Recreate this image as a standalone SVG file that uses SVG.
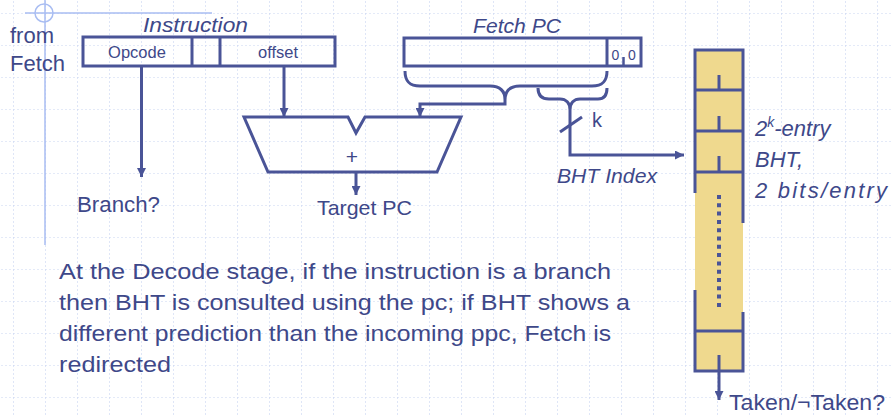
<svg xmlns="http://www.w3.org/2000/svg" width="892" height="417" viewBox="0 0 892 417">
<defs>
<pattern id="grid" patternUnits="userSpaceOnUse" x="13" y="13" width="32" height="32">
<path d="M0,0 H32 M0,0 V32" fill="none" stroke="#C9D5F2" stroke-width="1.2" stroke-dasharray="2,2"/>
</pattern>
<marker id="arr" markerUnits="userSpaceOnUse" markerWidth="10" markerHeight="9" refX="9" refY="4.5" orient="auto">
<path d="M0,0 L9,4.5 L0,9 z" fill="#4A5497"/>
</marker>
<style>
.ln{fill:none;stroke:#4A5497;stroke-width:3}
.thin{fill:none;stroke:#4A5497;stroke-width:2.5}
.t{font-family:"Liberation Sans",Arial,sans-serif;fill:#3E4889}
.it{font-style:italic}
.guide{stroke:#A9BDF2;stroke-width:1.5;fill:none}
</style>
</defs>
<rect width="892" height="417" fill="#FFFFFF"/>
<rect width="892" height="417" fill="url(#grid)"/>
<g id="guides">
<line class="guide" x1="25" y1="13" x2="212" y2="13"/>
<line class="guide" x1="45" y1="0" x2="45" y2="245"/>
<circle class="guide" cx="44" cy="13" r="9"/>
</g>
<g id="from-fetch">
<text class="t" x="10" y="43" font-size="22">from</text>
<text class="t" x="10" y="71" font-size="22">Fetch</text>
</g>
<g id="instruction">
<text class="t it" x="143" y="32" font-size="21" textLength="105" lengthAdjust="spacingAndGlyphs">Instruction</text>
<rect class="ln" x="83" y="37" width="252" height="29"/>
<line class="ln" x1="192" y1="37" x2="192" y2="66"/>
<line class="ln" x1="220" y1="37" x2="220" y2="66"/>
<text class="t" x="137" y="58" font-size="16.5" text-anchor="middle">Opcode</text>
<text class="t" x="278" y="58" font-size="16.5" text-anchor="middle">offset</text>
</g>
<g id="fetch-pc">
<text class="t it" x="473" y="33" font-size="21" textLength="88" lengthAdjust="spacingAndGlyphs">Fetch PC</text>
<rect class="ln" x="404" y="38" width="237" height="28"/>
<line class="ln" x1="607" y1="38" x2="607" y2="66"/>
<text class="t" x="615.5" y="60" font-size="14" text-anchor="middle">0</text>
<text class="t" x="632" y="60" font-size="14" text-anchor="middle">0</text>
<line class="thin" x1="623.5" y1="57" x2="623.5" y2="66"/>
</g>
<g id="adder">
<path class="ln" d="M244,117 L348,117 L356,133 L365,117 L461,117 L437,172 L268,172 Z"/>
<text class="t" x="352" y="164" font-size="21" text-anchor="middle">+</text>
</g>
<g id="bht">
<rect x="695" y="50" width="48" height="321" fill="#EFD98E"/>
<path class="ln" d="M695,193 V50 H743 V223"/>
<path class="ln" d="M695,290 V371 H743 V312"/>
<line class="ln" x1="695" y1="90" x2="743" y2="90"/>
<line class="ln" x1="695" y1="131" x2="743" y2="131"/>
<line class="ln" x1="695" y1="172" x2="743" y2="172"/>
<line class="ln" x1="695" y1="331" x2="743" y2="331"/>
<line class="ln" x1="719" y1="75" x2="719" y2="90"/>
<line class="ln" x1="719" y1="116" x2="719" y2="131"/>
<line class="ln" x1="719" y1="156" x2="719" y2="172"/>
<line x1="719" y1="195" x2="719" y2="311" stroke="#4A5497" stroke-width="4" stroke-dasharray="4,4.3"/>
</g>
<g id="bht-labels">
<text class="t it" x="755" y="136" font-size="22"><tspan>2</tspan><tspan font-size="14" dy="-9">k</tspan><tspan dy="9">-entry</tspan></text>
<text class="t it" x="755" y="167" font-size="22">BHT,</text>
<text class="t it" x="755" y="198" font-size="22" textLength="132" lengthAdjust="spacing">2 bits/entry</text>
</g>
<g id="connectors">
<line class="ln" x1="141.5" y1="66" x2="141.5" y2="177" marker-end="url(#arr)"/>
<line class="ln" x1="284" y1="66" x2="284" y2="117" marker-end="url(#arr)"/>
<path class="ln" d="M505,100 V104 H420 V117" marker-end="url(#arr)"/>
<path class="ln" d="M405,71 C405,81 409,86 420,86 L490,86 C500,86 505,91 505,100 C505,91 510,86 520,86 L592,86 C603,86 607,81 607,71"/>
<path class="ln" d="M538,88 C538,95 541,99 549,99 L560,99 C566,99 570,103 570,110 C570,103 574,99 580,99 L598,99 C604,99 607,95 607,88"/>
<path class="ln" d="M570,110 V155 H684" marker-end="url(#arr)"/>
<line class="ln" x1="560" y1="132" x2="582" y2="117"/>
<line class="ln" x1="356" y1="172" x2="356" y2="195" marker-end="url(#arr)"/>
<line class="ln" x1="719" y1="355" x2="719" y2="400" marker-end="url(#arr)"/>
</g>
<g id="labels">
<text class="t" x="592" y="127" font-size="20">k</text>
<text class="t it" x="557" y="183" font-size="21" textLength="100" lengthAdjust="spacingAndGlyphs">BHT Index</text>
<text class="t" x="77" y="212" font-size="21.5" textLength="83" lengthAdjust="spacingAndGlyphs">Branch?</text>
<text class="t" x="317" y="215" font-size="21" textLength="95" lengthAdjust="spacingAndGlyphs">Target PC</text>
<text class="t" x="729" y="410" font-size="22" textLength="156" lengthAdjust="spacingAndGlyphs">Taken/¬Taken?</text>
</g>
<g id="description">
<text class="t" x="59" y="279" font-size="22" textLength="552" lengthAdjust="spacingAndGlyphs">At the Decode stage, if the instruction is a branch</text>
<text class="t" x="59" y="310" font-size="22" textLength="571" lengthAdjust="spacingAndGlyphs">then BHT is consulted using the pc; if BHT shows a</text>
<text class="t" x="59" y="341" font-size="22" textLength="552" lengthAdjust="spacingAndGlyphs">different prediction than the incoming ppc, Fetch is</text>
<text class="t" x="59" y="372" font-size="22" textLength="112" lengthAdjust="spacingAndGlyphs">redirected</text>
</g>
</svg>
